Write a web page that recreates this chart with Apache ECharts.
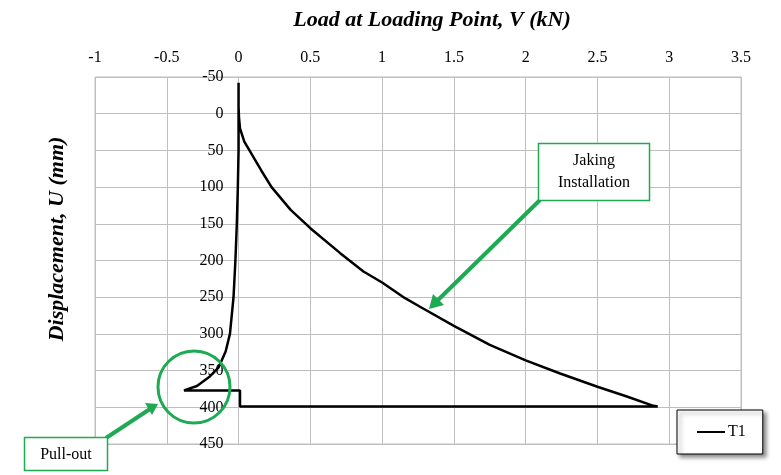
<!DOCTYPE html>
<html>
<head>
<meta charset="utf-8">
<script src="https://cdn.jsdelivr.net/npm/echarts@6/dist/echarts.min.js"></script>
<style>html,body{margin:0;padding:0;background:#fff;}#c{width:781px;height:475px;}</style>
</head>
<body>
<div id="c"></div>
<script>
// Load V (kN) and displacement U (mm) for test T1
const seriesName = 'T1';
const loadKN = [0, 0, 0.003, 0.01, 0.04, 0.076, 0.157, 0.23, 0.363, 0.5, 0.708, 0.87, 1.0, 1.157, 1.264, 1.5, 1.75, 2.0, 2.24, 2.5, 2.7, 2.89, 2.92,
  0.01, 0.01, -0.38, -0.29, -0.2, -0.14, -0.09, -0.06, -0.035, -0.022, -0.012, -0.005, 0, 0];
const dispMM = [-42, -10, 5, 20, 38, 50, 77, 100, 131, 156, 190, 215, 230, 251, 263, 289, 315, 336, 354, 372, 385, 398, 399,
  399, 377, 377, 371, 358, 346, 324, 300, 250, 200, 150, 100, 50, -42];
const xTicks = {min: -1, max: 3.5, step: 0.5};
const yTicks = {min: -50, max: 450, step: 50};
const xTitle = 'Load at Loading Point, V (kN)';
const yTitle = 'Displacement, U (mm)';
const noteJack = 'Jaking\nInstallation';
const notePull = 'Pull-out';

const serif = '"Liberation Serif", "DejaVu Serif", serif';
const green = '#1DAA52';
const gridCol = '#BFBFBF';
const gridLeft = 95, gridRight = 40;
const plotW = 781 - gridLeft - gridRight;
// y axis crosses at load = 0
const yAxisOffset = -plotW * (0 - xTicks.min) / (xTicks.max - xTicks.min);

const chart = echarts.init(document.getElementById('c'), null, {renderer: 'canvas'});
const data = loadKN.map((v, i) => [v, dispMM[i]]);

chart.setOption({
  animation: false,
  backgroundColor: '#ffffff',
  grid: {left: gridLeft, right: gridRight, top: 77, bottom: 31, show: true, borderColor: gridCol, borderWidth: 1},
  xAxis: {
    type: 'value', position: 'top', min: xTicks.min, max: xTicks.max, interval: xTicks.step,
    axisLine: {show: false},
    axisTick: {show: false},
    axisLabel: {fontFamily: serif, fontSize: 16, color: '#000', margin: 11},
    splitLine: {show: true, lineStyle: {color: gridCol, width: 1}}
  },
  yAxis: {
    type: 'value', inverse: true, min: yTicks.min, max: yTicks.max, interval: yTicks.step,
    position: 'left', offset: yAxisOffset,
    axisLine: {show: false, onZero: false},
    axisTick: {show: false},
    axisLabel: {fontFamily: serif, fontSize: 16, color: '#000', margin: 15},
    splitLine: {show: true, lineStyle: {color: gridCol, width: 1}}
  },
  legend: {
    show: true, left: 677, top: 410, orient: 'horizontal',
    data: [{name: seriesName, icon: 'rect'}],
    itemWidth: 28, itemHeight: 2, itemGap: 4,
    padding: [14, 17, 14, 20],
    backgroundColor: '#fff', borderColor: '#000', borderWidth: 1,
    shadowColor: 'rgba(0,0,0,0.45)', shadowBlur: 4, shadowOffsetX: 3, shadowOffsetY: 3,
    textStyle: {fontFamily: serif, fontSize: 16, color: '#000', padding: [0, 0, 0, -2]}
  },
  series: [{
    name: seriesName, type: 'line', data: data, symbol: 'none', showSymbol: false,
    lineStyle: {color: '#000', width: 2.5}, itemStyle: {color: '#000'}, smooth: false
  }],
  graphic: [
    {type: 'text', x: 432, y: 20, style: {text: xTitle, font: 'italic bold 22px ' + serif, fill: '#000', textAlign: 'center', textVerticalAlign: 'middle'}},
    {type: 'text', x: 57, y: 239, rotation: Math.PI / 2, style: {text: yTitle, font: 'italic bold 22px ' + serif, fill: '#000', textAlign: 'center', textVerticalAlign: 'middle'}},
    // circle around pull-out start
    {type: 'circle', shape: {cx: 194, cy: 387, r: 36}, style: {fill: 'none', stroke: green, lineWidth: 3}, z: 20},
    // arrow to jacking curve
    {type: 'line', shape: {x1: 540, y1: 200, x2: 437, y2: 301}, style: {stroke: green, lineWidth: 4}, z: 20},
    {type: 'polygon', shape: {points: [[429, 309], [433, 294], [444, 305]]}, style: {fill: green}, z: 20},
    // box jacking
    {type: 'rect', shape: {x: 538.5, y: 143.5, width: 111, height: 57}, style: {fill: '#fff', stroke: green, lineWidth: 1.5}, z: 21},
    {type: 'text', x: 594, y: 172, style: {text: noteJack, font: '16px ' + serif, fill: '#000', textAlign: 'center', textVerticalAlign: 'middle', lineHeight: 22}, z: 22},
    // arrow to pull-out
    {type: 'line', shape: {x1: 106, y1: 438, x2: 150, y2: 409}, style: {stroke: green, lineWidth: 4}, z: 20},
    {type: 'polygon', shape: {points: [[158, 404], [145, 403], [152, 415]]}, style: {fill: green}, z: 20},
    {type: 'rect', shape: {x: 24.5, y: 437.5, width: 83, height: 33}, style: {fill: '#fff', stroke: green, lineWidth: 1.5}, z: 21},
    {type: 'text', x: 66, y: 455, style: {text: notePull, font: '16px ' + serif, fill: '#000', textAlign: 'center', textVerticalAlign: 'middle'}, z: 22}
  ]
});
</script>
</body>
</html>
